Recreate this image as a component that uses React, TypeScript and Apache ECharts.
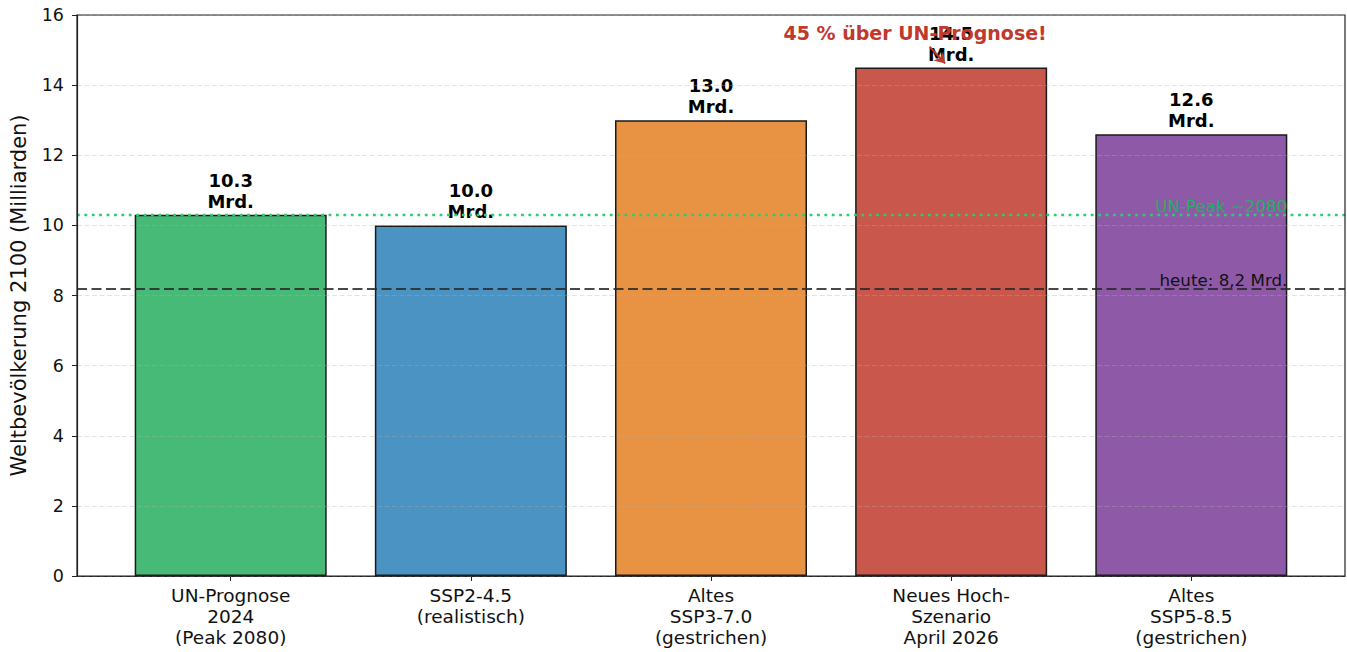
import React, { useEffect, useRef } from "react";
import * as echarts from "echarts";

// ---- data ----
const categories: string[] = [
  "UN-Prognose\n2024\n(Peak 2080)",
  "SSP2-4.5\n(realistisch)",
  "Altes\nSSP3-7.0\n(gestrichen)",
  "Neues Hoch-\nSzenario\nApril 2026",
  "Altes\nSSP5-8.5\n(gestrichen)",
];
const populations: number[] = [10.3, 10.0, 13.0, 14.5, 12.6];
const barColors: string[] = ["#48ba78", "#4a93c3", "#e89244", "#c9574c", "#8e5aa7"];
const yTicks: number[] = [0, 2, 4, 6, 8, 10, 12, 14, 16];
const todayValue = 8.2;
const todayLabel = "heute: 8,2 Mrd.";
const unPeakValue = 10.3;
const unPeakLabel = "UN-Peak ~2080";
const annotationText = "45 % über UN-Prognose!";
const annotationTextPos: number[] = [2.85, 15.5];
const arrowFrom: number[] = [2.91, 15.1];
const arrowTo: number[] = [2.975, 14.62];
const labelAnchorX = 4.4;

const FONT = "DejaVu Sans";

export default function App() {
  const ref = useRef<HTMLDivElement>(null);
  useEffect(() => {
    if (!ref.current) return;
    const chart = echarts.init(ref.current, null, { renderer: "svg" });
    const xIdx = categories.map((_, i) => i);
    chart.setOption({
      animation: false,
      backgroundColor: "#ffffff",
      textStyle: { fontFamily: FONT },
      grid: {
        left: 76,
        right: 2,
        top: 15,
        bottom: 76,
        show: true,
        borderColor: "#222",
        borderWidth: 1.2,
        backgroundColor: "transparent",
        z: 10,
      },
      xAxis: {
        type: "value",
        min: -0.64,
        max: 4.64,
        splitLine: { show: false },
        axisLine: { show: true, onZero: false, lineStyle: { color: "#222", width: 1.2 } },
        axisTick: {
          show: true,
          customValues: xIdx,
          length: 5,
          lineStyle: { color: "#222", width: 1 },
        },
        axisLabel: {
          customValues: xIdx,
          formatter: (v: number) => categories[Math.round(v)] ?? "",
          fontFamily: FONT,
          fontSize: 18.5,
          lineHeight: 21,
          color: "#111",
          margin: 9,
          align: "center",
        },
      },
      yAxis: {
        type: "value",
        min: yTicks[0],
        max: yTicks[yTicks.length - 1],
        interval: 2,
        z: 5,
        name: "Weltbevölkerung 2100 (Milliarden)",
        nameLocation: "middle",
        nameGap: 48,
        nameTextStyle: { fontFamily: FONT, fontSize: 21, color: "#111" },
        axisLine: { show: true, onZero: false, lineStyle: { color: "#222", width: 1.2 } },
        axisTick: { show: true, length: 5, lineStyle: { color: "#222", width: 1 } },
        axisLabel: { fontFamily: FONT, fontSize: 17.5, color: "#111", margin: 13 },
        splitLine: {
          show: true,
          lineStyle: { color: "rgba(176,176,176,0.35)", width: 1.2, type: [5, 2.5] },
        },
      },
      series: [
        {
          type: "bar",
          barWidth: 192,
          z: 2,
          data: populations.map((v, i) => ({
            value: [i, v],
            itemStyle: { color: barColors[i], borderColor: "#1a1a1a", borderWidth: 1.5 },
          })),
          label: {
            show: true,
            position: "top",
            distance: 3,
            formatter: (p: any) => `${p.value[1].toFixed(1)}\nMrd.`,
            fontFamily: FONT,
            fontWeight: "bold",
            fontSize: 18,
            lineHeight: 21,
            color: "#000",
            align: "center",
          },
        },
        {
          type: "scatter",
          z: 6,
          symbolSize: 0,
          silent: true,
          itemStyle: { opacity: 1 },
          data: [
            {
              value: [labelAnchorX, unPeakValue],
              label: {
                show: true,
                position: [0, 0],
                align: "right",
                verticalAlign: "bottom",
                formatter: unPeakLabel,
                fontFamily: FONT,
                fontSize: 16.7,
                color: "#27ae60",
              },
            },
            {
              value: [labelAnchorX, todayValue],
              label: {
                show: true,
                position: [0, 0],
                align: "right",
                verticalAlign: "bottom",
                formatter: todayLabel,
                fontFamily: FONT,
                fontSize: 16.7,
                color: "#111",
              },
            },
            {
              value: annotationTextPos,
              label: {
                show: true,
                position: [0, 0],
                align: "center",
                verticalAlign: "middle",
                formatter: annotationText,
                fontFamily: FONT,
                fontWeight: "bold",
                fontSize: 19,
                color: "#c0392b",
              },
            },
          ],
          markLine: {
            silent: true,
            animation: false,
            symbol: ["none", "none"],
            label: { show: false },
            data: [
              [
                { coord: [-0.64, unPeakValue], lineStyle: { color: "#2ecc71", width: 2.4, type: [2.8, 4.6] } },
                { coord: [4.64, unPeakValue] },
              ],
              [
                { coord: [-0.64, todayValue], lineStyle: { color: "rgba(40,40,40,0.85)", width: 2, type: [10, 4.5] } },
                { coord: [4.64, todayValue] },
              ],
              [
                {
                  coord: arrowFrom,
                  symbol: "none",
                  lineStyle: { color: "#c0392b", width: 2, type: "solid" },
                },
                { coord: arrowTo, symbol: "arrow", symbolSize: 10 },
              ],
            ],
          },
        },
      ],
    });
    return () => chart.dispose();
  }, []);
  return (
    <div
      ref={ref}
      style={{ position: "fixed", left: 0, top: 0, width: 1347, height: 652, background: "#fff" }}
    />
  );
}
